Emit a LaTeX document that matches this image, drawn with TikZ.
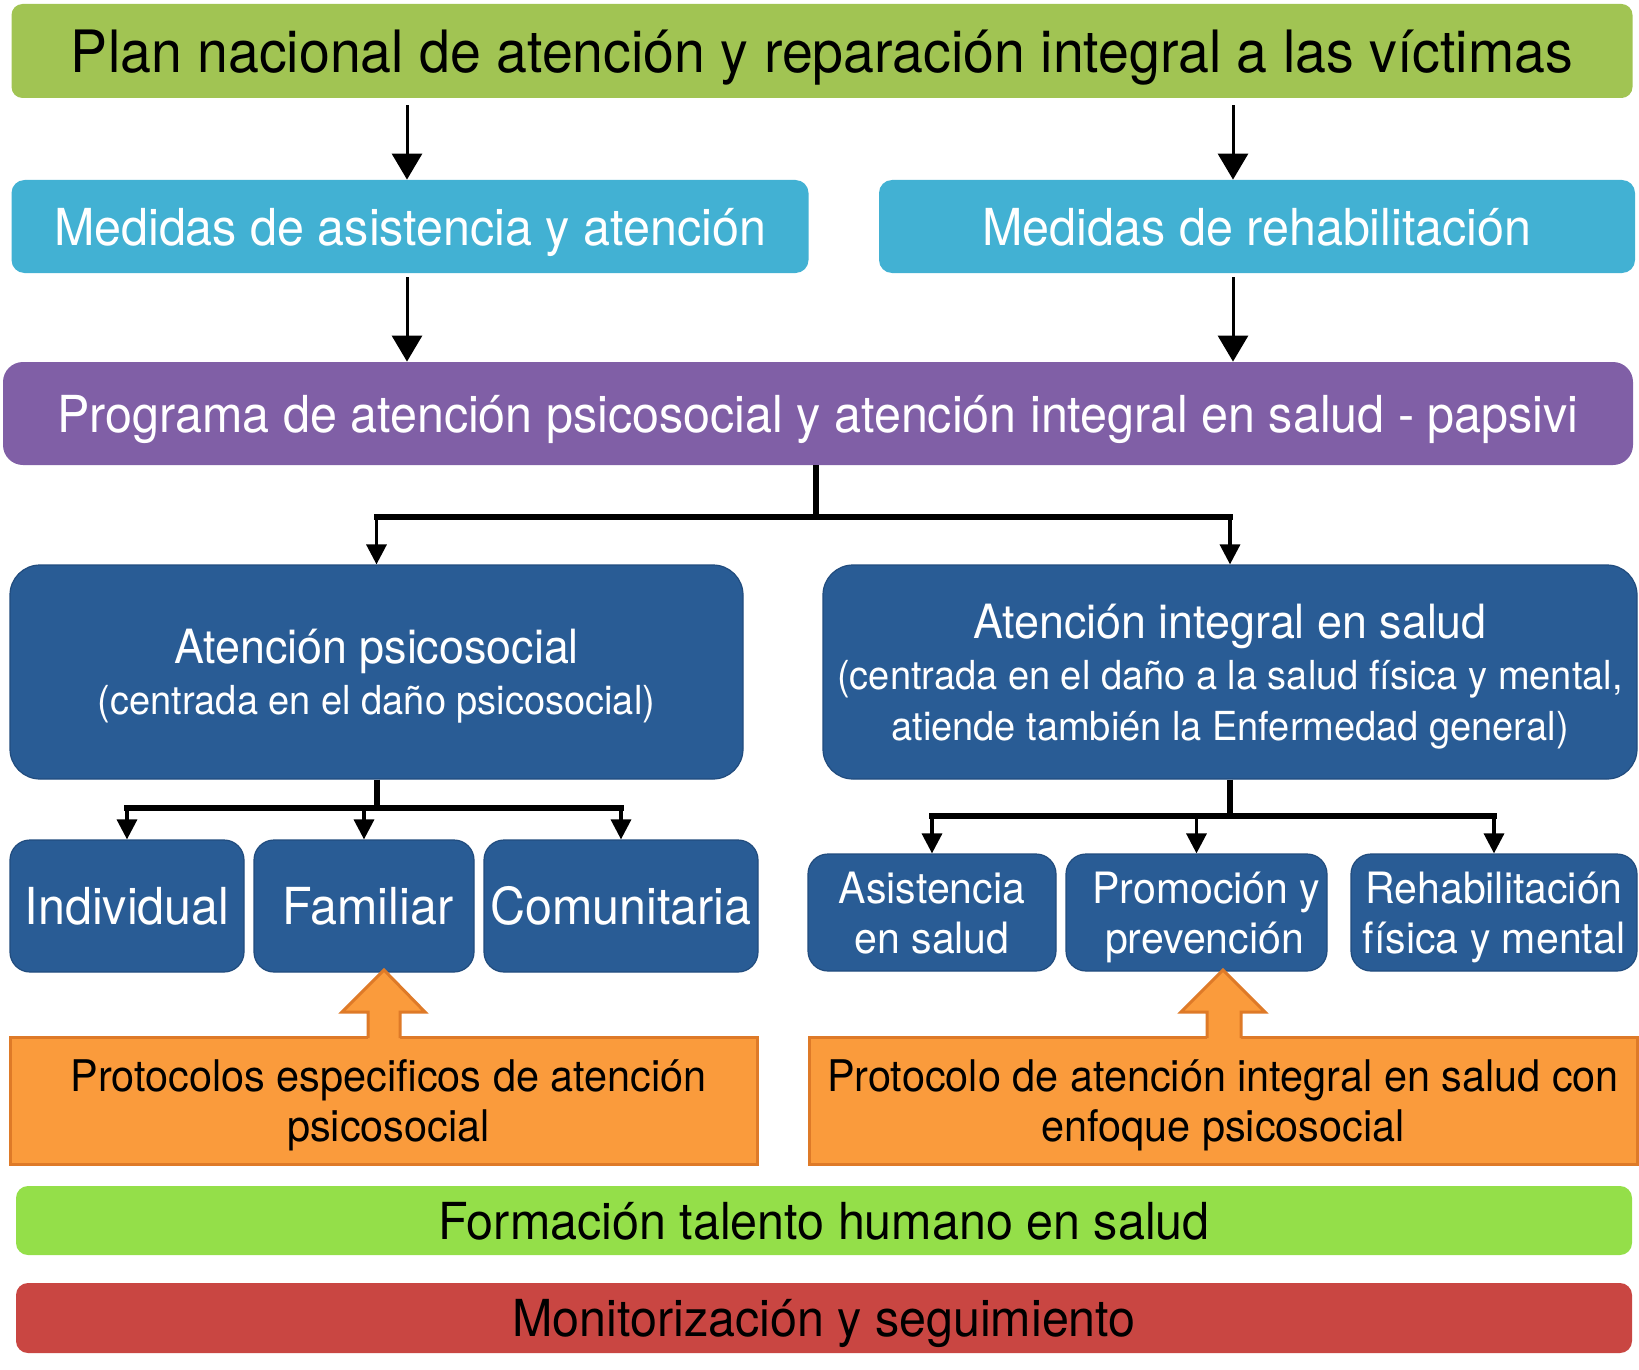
\documentclass[tikz,border=0pt]{standalone}
\usepackage{fontspec}
\setmainfont{TeX Gyre Heros}[FakeStretch=0.95]
\usetikzlibrary{arrows.meta,calc}
\definecolor{cPlan}{RGB}{161,196,83}
\definecolor{cCyan}{RGB}{66,177,211}
\definecolor{cPurple}{RGB}{128,95,166}
\definecolor{cBlue}{RGB}{41,92,149}
\definecolor{cBlueD}{RGB}{33,76,126}
\definecolor{cOrange}{RGB}{250,155,60}
\definecolor{cOrangeD}{RGB}{222,122,40}
\definecolor{cForm}{RGB}{148,223,73}
\definecolor{cRed}{RGB}{201,70,66}
\newcommand\myfs[2]{\fontsize{#1}{#2}\selectfont}
\tikzset{
  box/.style={inner sep=0pt, align=center, anchor=center, text centered},
  oneline/.style={text height=#1, text depth=0pt},
  oneline/.default=19pt,
  nodepth/.style={text depth=0pt},
  bluebox/.style={box, fill=cBlue, draw=cBlueD, line width=0.6pt, text=white},
  orbox/.style={box, fill=cOrange, draw=cOrangeD, line width=1.5pt, text=black},
  bigarr/.style={line width=1.5pt, -{Triangle[width=15pt,length=13pt]}},
  stem/.style={line width=2.6pt},
  drop/.style={line width=1.7pt, -{Triangle[width=10pt,length=10pt]}},
}
\begin{document}
\begin{tikzpicture}[x=0.5pt,y=-0.5pt]
\useasboundingbox (0,0) rectangle (1639,1370);
% top
\node[box, oneline=21.6pt, fill=cPlan, minimum width=810.5pt, minimum height=47pt, rounded corners=5.5pt,
  font=\myfs{29.2}{35}] (plan) at (822,51) {Plan nacional de atención y reparación integral a las víctimas};
\node[box, oneline=19.3pt, fill=cCyan, text=white, minimum width=398.5pt, minimum height=46.5pt, rounded corners=6.5pt,
  font=\myfs{25.5}{30}] (asis) at (410,226.5) {Medidas de asistencia y atención};
\node[box, oneline=19.3pt, fill=cCyan, text=white, minimum width=378pt, minimum height=46.5pt, rounded corners=6.5pt,
  font=\myfs{25.5}{30}] (rehab) at (1257,226.5) {Medidas de rehabilitación};
\node[box, oneline=19pt, fill=cPurple, text=white, minimum width=815pt, minimum height=51.5pt, rounded corners=10pt,
  font=\myfs{25.5}{30}] (prog) at (818,413.5) {Programa de atención psicosocial y atención integral en salud - papsivi};
% second level
\node[bluebox, nodepth, minimum width=366.5pt, minimum height=107pt, rounded corners=15pt,
  font=\myfs{20}{25.5}] (apsi) at (376.5,672)
  {{\myfs{23.6}{25.5}Atención psicosocial}\\(centrada en el daño psicosocial)};
\node[bluebox, nodepth, minimum width=407pt, minimum height=107pt, rounded corners=15pt,
  font=\myfs{20}{25.5}] (aint) at (1230,672)
  {{\myfs{23.6}{25.5}Atención integral en salud}\\(centrada en el daño a la salud física y mental,\\atiende también la Enfermedad general)};
% third level
\node[bluebox, oneline=18.6pt, minimum width=117pt, minimum height=66pt, rounded corners=10pt,
  font=\myfs{25.5}{30}] (ind) at (127,906) {Individual};
\node[bluebox, oneline=18.6pt, minimum width=110pt, minimum height=66pt, rounded corners=10pt,
  font=\myfs{25.5}{30}] (fam) at (364,906) {\hspace*{4pt}Familiar};
\node[bluebox, oneline=18.6pt, minimum width=137pt, minimum height=66pt, rounded corners=10pt,
  font=\myfs{25.5}{30}] (com) at (621,906) {Comunitaria};
\node[bluebox, nodepth, minimum width=124pt, minimum height=58.5pt, rounded corners=10pt,
  font=\myfs{21.6}{25}] (asal) at (932,912.5) {Asistencia\\en salud};
\node[bluebox, nodepth, minimum width=130.5pt, minimum height=58.5pt, rounded corners=10pt,
  font=\myfs{21.6}{25}] (prom) at (1196.5,912.5) {\hspace*{10pt}Promoción y\\\hspace*{8pt}prevención};
\node[bluebox, nodepth, minimum width=143pt, minimum height=58.5pt, rounded corners=10pt,
  font=\myfs{21.6}{25}] (rehf) at (1494,912.5) {Rehabilitación\\física y mental};
% protocols
\node[orbox, nodepth, minimum width=373.5pt, minimum height=63.5pt,
  font=\myfs{21.8}{25}] (protL) at (383.5,1100.5) {\hspace*{5pt}Protocolos especificos de atención\\\hspace*{5pt}psicosocial};
\node[orbox, nodepth, minimum width=414pt, minimum height=63.5pt,
  font=\myfs{21.8}{25}] (protR) at (1223,1100.5) {Protocolo de atención integral en salud con\\enfoque psicosocial};
% bottom bars
\node[box, oneline=18.6pt, fill=cForm, minimum width=808pt, minimum height=34.5pt, rounded corners=6pt,
  font=\myfs{25.5}{30}] (form) at (824,1220.5) {Formación talento humano en salud};
\node[box, oneline=18.6pt, fill=cRed, minimum width=808pt, minimum height=35pt, rounded corners=6pt,
  font=\myfs{25.5}{30}] (mon) at (824,1318) {Monitorización y seguimiento};
% arrows top
\coordinate (xl) at (407,0);
\coordinate (xr) at (1233,0);
\draw[bigarr] ([yshift=-3.5pt]plan.south -| xl) -- (asis.north -| xl);
\draw[bigarr] ([yshift=-3.5pt]plan.south -| xr) -- (rehab.north -| xr);
\draw[bigarr] ([yshift=-2pt]asis.south -| xl) -- (prog.north -| xl);
\draw[bigarr] ([yshift=-2pt]rehab.south -| xr) -- (prog.north -| xr);
% tree from prog
\coordinate (b1) at (816,517);
\draw[stem] (prog.south -| b1) -- (b1);
\draw[stem, line cap=rect] (b1 -| apsi.north) -- (b1 -| aint.north);
\draw[drop] (b1 -| apsi.north) -- (apsi.north);
\draw[drop] (b1 -| aint.north) -- (aint.north);
% left tree
\coordinate (b2) at (377,808);
\draw[stem] (apsi.south -| b2) -- (b2);
\draw[stem, line cap=rect] (b2 -| ind.north) -- (b2 -| com.north);
\draw[drop] (b2 -| ind.north) -- (ind.north);
\draw[drop] (b2 -| fam.north) -- (fam.north);
\draw[drop] (b2 -| com.north) -- (com.north);
% right tree
\coordinate (b3) at (1230,816);
\draw[stem] (aint.south -| b3) -- (b3);
\draw[stem, line cap=rect] (b3 -| asal.north) -- (b3 -| rehf.north);
\draw[drop] (b3 -| asal.north) -- (asal.north);
\draw[drop] (b3 -| prom.north) -- (prom.north);
\draw[drop] (b3 -| rehf.north) -- (rehf.north);
% block arrows
\fill[cOrange] (368,1039.5) -- (368,1012) -- (342,1012) -- (384,970) -- (425,1012) -- (400,1012) -- (400,1039.5) -- cycle;
\draw[cOrangeD, line width=1.5pt, line join=miter] (368,1038) -- (368,1012) -- (342,1012) -- (384,970) -- (425,1012) -- (400,1012) -- (400,1038);
\fill[cOrange] (1207,1039.5) -- (1207,1012) -- (1181,1012) -- (1223,970) -- (1265,1012) -- (1241,1012) -- (1241,1039.5) -- cycle;
\draw[cOrangeD, line width=1.5pt, line join=miter] (1207,1038) -- (1207,1012) -- (1181,1012) -- (1223,970) -- (1265,1012) -- (1241,1012) -- (1241,1038);
\end{tikzpicture}
\end{document}
